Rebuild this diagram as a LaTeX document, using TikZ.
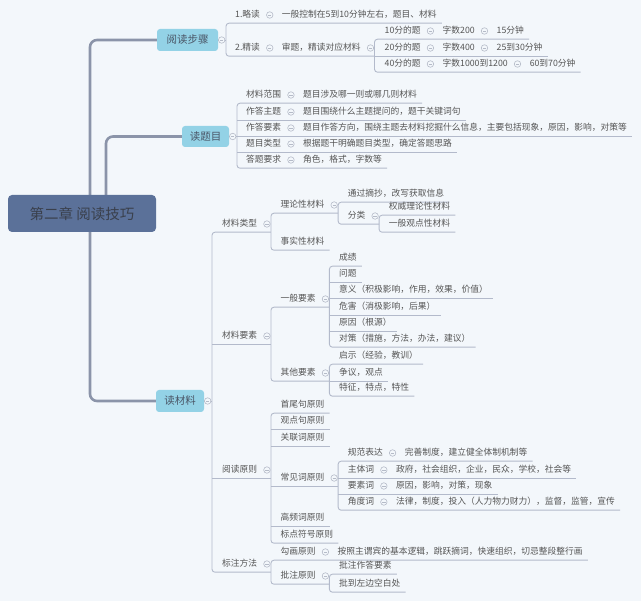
\documentclass[tikz,border=0pt]{standalone}
\usepackage{fontspec}
\newfontfamily\cjk{Noto Sans CJK SC}
\usetikzlibrary{positioning,backgrounds,calc}
\definecolor{bg}{HTML}{F3F7FB}
\definecolor{rootc}{HTML}{5B7199}
\definecolor{roottxt}{HTML}{3A404C}
\definecolor{topicc}{HTML}{93D2E6}
\definecolor{topictxt}{HTML}{4A5566}
\definecolor{txt}{HTML}{555555}
\definecolor{lnc}{HTML}{B3BACB}
\definecolor{mlc}{HTML}{8B94A9}
\definecolor{togc}{HTML}{B5BBC8}
\begin{document}
\begin{tikzpicture}[x=1pt,y=-1pt,
  rootn/.style={fill=rootc, rounded corners=4pt, minimum width=148pt, minimum height=37pt, inner sep=0pt, font=\cjk\fontsize{14.5}{16}\selectfont, text=roottxt},
  topic/.style={fill=topicc, rounded corners=3pt, inner sep=0pt, font=\cjk\fontsize{10.5}{12}\selectfont, text=topictxt},
  leaf/.style={anchor=west, inner xsep=0pt, inner ysep=3.75pt, text height=7pt, text depth=1.5pt, font=\cjk\fontsize{8.75}{10}\selectfont, text=txt},
  tog/.style={circle, draw=togc, fill=bg, line width=0.6pt, minimum size=6.5pt, inner sep=0pt,
    path picture={\draw[togc, line width=0.6pt] ([xshift=1.6pt]path picture bounding box.west) -- ([xshift=-1.6pt]path picture bounding box.east);}},
  conn/.style={draw=lnc, line width=0.9pt, rounded corners=3pt},
  mainconn/.style={draw=mlc, line width=2.6pt, rounded corners=7pt},
  node distance=6pt
]
\useasboundingbox (0,0) rectangle (641,601);

% ---- root and topics
\node[rootn] (root) at (82,213.5) {第二章 阅读技巧};
\node[topic, minimum width=61pt, minimum height=22pt] (buzhou) at (187.5,40) {阅读步骤};
\node[topic, minimum width=47pt, minimum height=21pt] (timu) at (205.5,136.5) {读题目};
\node[topic, minimum width=48pt, minimum height=22pt] (cail) at (180,401) {读材料};
\node[tog] (tgb) at ($(buzhou.east)+(3.5,0)$) {};
\node[tog] (tgt) at ($(timu.east)+(3.5,0)$) {};
\node[tog] (tgc) at ($(cail.east)+(3.5,0)$) {};
\coordinate (s1) at (226,0);
\coordinate (sT) at (237,0);
\coordinate (sM) at (212,0);
\coordinate (r1) at (90,0);
\coordinate (r2) at (106,0);

% ---- 阅读步骤
\node[leaf] (a11) at (235,15) {1.略读};
\node[tog, right=of a11] (ta11) {};
\node[leaf, right=8.5pt of ta11] (b11) {一般控制在5到10分钟左右，题目、材料};
\node[leaf] (a12) at (235,48) {2.精读};
\node[tog, right=of a12] (ta12) {};
\node[leaf, right=8.5pt of ta12] (b12) {审题，精读对应材料};
\node[tog, right=of b12] (tb12) {};
\coordinate (s2) at ($(tb12.center)+(4,0)$);
\node[leaf] (c1) at ($(s2 |- 0,31)+(10,0)$) {10分的题};
\node[tog, right=of c1] (tc1) {};
\node[leaf, right=8.5pt of tc1] (d1) {字数200};
\node[tog, right=of d1] (td1) {};
\node[leaf, right=8.5pt of td1] (e1) {15分钟};
\node[leaf] (c2) at ($(s2 |- 0,48)+(10,0)$) {20分的题};
\node[tog, right=of c2] (tc2) {};
\node[leaf, right=8.5pt of tc2] (d2) {字数400};
\node[tog, right=of d2] (td2) {};
\node[leaf, right=8.5pt of td2] (e2) {25到30分钟};
\node[leaf] (c3) at ($(s2 |- 0,64)+(10,0)$) {40分的题};
\node[tog, right=of c3] (tc3) {};
\node[leaf, right=8.5pt of tc3] (d3) {字数1000到1200};
\node[tog, right=of d3] (td3) {};
\node[leaf, right=8.5pt of td3] (e3) {60到70分钟};

% ---- 读题目
\node[leaf] (p1) at (246,95) {材料范围};
\node[tog, right=of p1] (tp1) {};
\node[leaf, right=8.5pt of tp1] (q1) {题目涉及哪一则或哪几则材料};
\node[leaf] (p2) at (246,112) {作答主题};
\node[tog, right=of p2] (tp2) {};
\node[leaf, right=8.5pt of tp2] (q2) {题目围绕什么主题提问的，题干关键词句};
\node[leaf] (p3) at (246,128) {作答要素};
\node[tog, right=of p3] (tp3) {};
\node[leaf, right=8.5pt of tp3] (q3) {题目作答方向，围绕主题去材料挖掘什么信息，主要包括现象，原因，影响，对策等};
\node[leaf] (p4) at (246,144) {题目类型};
\node[tog, right=of p4] (tp4) {};
\node[leaf, right=8.5pt of tp4] (q4) {根据题干明确题目类型，确定答题思路};
\node[leaf] (p5) at (246,160) {答题要求};
\node[tog, right=of p5] (tp5) {};
\node[leaf, right=8.5pt of tp5] (q5) {角色，格式，字数等};

% ---- 读材料 : level 1
\node[leaf] (m1) at (222,224) {材料类型};
\node[tog, right=of m1] (tm1) {};
\coordinate (sm1) at ($(tm1.center)+(4,0)$);
\node[leaf] (m2) at (222,336) {材料要素};
\node[tog, right=of m2] (tm2) {};
\coordinate (sm2) at ($(tm2.center)+(4,0)$);
\node[leaf] (m3) at (222,470) {阅读原则};
\node[tog, right=of m3] (tm3) {};
\coordinate (sm3) at ($(tm3.center)+(4,0)$);
\node[leaf] (m4) at (222,564) {标注方法};
\node[tog, right=of m4] (tm4) {};
\coordinate (sm4) at ($(tm4.center)+(4,0)$);

% 材料类型
\node[leaf] (n1) at ($(sm1 |- 0,205)+(9.5,0)$) {理论性材料};
\node[tog, right=of n1] (tn1) {};
\coordinate (sn1) at ($(tn1.center)+(4,0)$);
\node[leaf] (n2) at ($(sm1 |- 0,242)+(9.5,0)$) {事实性材料};
\node[leaf] (o1) at ($(sn1 |- 0,194)+(9.5,0)$) {通过摘抄，改写获取信息};
\node[leaf] (o2) at ($(sn1 |- 0,216)+(9.5,0)$) {分类};
\node[tog, right=of o2] (to2) {};
\coordinate (so2) at ($(to2.center)+(4,0)$);
\node[leaf] (w1) at ($(so2 |- 0,207)+(9.5,0)$) {权威理论性材料};
\node[leaf] (w2) at ($(so2 |- 0,224)+(9.5,0)$) {一般观点性材料};

% 材料要素
\node[leaf] (g1) at ($(sm2 |- 0,299)+(9.5,0)$) {一般要素};
\node[tog, right=of g1] (tg1) {};
\coordinate (sg1) at ($(tg1.center)+(4,0)$);
\node[leaf] (g2) at ($(sm2 |- 0,373)+(9.5,0)$) {其他要素};
\node[tog, right=of g2] (tg2) {};
\coordinate (sg2) at ($(tg2.center)+(4,0)$);
\node[leaf] (k1) at ($(sg1 |- 0,258)+(9.5,0)$) {成绩};
\node[leaf] (k2) at ($(sg1 |- 0,274)+(9.5,0)$) {问题};
\node[leaf] (k3) at ($(sg1 |- 0,290)+(9.5,0)$) {意义（积极影响，作用，效果，价值）};
\node[leaf] (k4) at ($(sg1 |- 0,307)+(9.5,0)$) {危害（消极影响，后果）};
\node[leaf] (k5) at ($(sg1 |- 0,323)+(9.5,0)$) {原因（根源）};
\node[leaf] (k6) at ($(sg1 |- 0,339)+(9.5,0)$) {对策（措施，方法，办法，建议）};
\node[leaf] (h1) at ($(sg2 |- 0,356)+(9.5,0)$) {启示（经验，教训）};
\node[leaf] (h2) at ($(sg2 |- 0,373)+(9.5,0)$) {争议，观点};
\node[leaf] (h3) at ($(sg2 |- 0,388)+(9.5,0)$) {特征，特点，特性};

% 阅读原则
\node[leaf] (y1) at ($(sm3 |- 0,405)+(9.5,0)$) {首尾句原则};
\node[leaf] (y2) at ($(sm3 |- 0,421)+(9.5,0)$) {观点句原则};
\node[leaf] (y3) at ($(sm3 |- 0,438)+(9.5,0)$) {关联词原则};
\node[leaf] (y4) at ($(sm3 |- 0,478)+(9.5,0)$) {常见词原则};
\node[tog, right=of y4] (ty4) {};
\coordinate (sy4) at ($(ty4.center)+(4,0)$);
\node[leaf] (y5) at ($(sm3 |- 0,518)+(9.5,0)$) {高频词原则};
\node[leaf] (y6) at ($(sm3 |- 0,535)+(9.5,0)$) {标点符号原则};
\node[leaf] (z1) at ($(sy4 |- 0,453)+(9.5,0)$) {规范表达};
\node[tog, right=of z1] (tz1) {};
\node[leaf, right=8.5pt of tz1] (zz1) {完善制度，建立健全体制机制等};
\node[leaf] (z2) at ($(sy4 |- 0,470)+(9.5,0)$) {主体词};
\node[tog, right=of z2] (tz2) {};
\node[leaf, right=8.5pt of tz2] (zz2) {政府，社会组织，企业，民众，学校，社会等};
\node[leaf] (z3) at ($(sy4 |- 0,486)+(9.5,0)$) {要素词};
\node[tog, right=of z3] (tz3) {};
\node[leaf, right=8.5pt of tz3] (zz3) {原因，影响，对策，现象};
\node[leaf] (z4) at ($(sy4 |- 0,502)+(9.5,0)$) {角度词};
\node[tog, right=of z4] (tz4) {};
\node[leaf, right=8.5pt of tz4] (zz4) {法律，制度，投入（人力物力财力），监督，监管，宣传};

% 标注方法
\node[leaf] (x1) at ($(sm4 |- 0,552)+(9.5,0)$) {勾画原则};
\node[tog, right=of x1] (tx1) {};
\node[leaf, right=8.5pt of tx1] (xx1) {按照主谓宾的基本逻辑，跳跃摘词，快速组织，切忌整段整行画};
\node[leaf] (x2) at ($(sm4 |- 0,576)+(9.5,0)$) {批注原则};
\node[tog, right=of x2] (tx2) {};
\coordinate (sx2) at ($(tx2.center)+(4,0)$);
\node[leaf] (v1) at ($(sx2 |- 0,566)+(9.5,0)$) {批注作答要素};
\node[leaf] (v2) at ($(sx2 |- 0,584)+(9.5,0)$) {批到左边空白处};

\begin{scope}[on background layer]
\fill[bg] (0,0) rectangle (641,601);
% main connectors
\draw[mainconn] (root.north -| r1) -- (r1 |- buzhou.west) -- (buzhou.west);
\draw[mainconn] (root.north -| r2) -- (r2 |- timu.west) -- (timu.west);
\draw[mainconn] (root.south -| r1) -- (r1 |- cail.west) -- (cail.west);
% 阅读步骤
\draw[conn] (buzhou.east) -- (s1 |- buzhou.east);
\draw[conn] ([xshift=5pt]b11.south east) -- (s1 |- b11.south) -- (s1 |- a12.south) -- (s2 |- a12.south);
\draw[conn] ([xshift=5pt]e1.south east) -- (s2 |- c1.south) -- (s2 |- c3.south) -- ([xshift=5pt]e3.south east);
\draw[conn] (s2 |- c2.south) -- ([xshift=5pt]e2.south east);
% 读题目
\draw[conn] (timu.east) -- (sT |- timu.east);
\draw[conn] ([xshift=5pt]q1.south east) -- (sT |- q1.south) -- (sT |- q5.south) -- ([xshift=5pt]q5.south east);
\draw[conn] (sT |- q2.south) -- ([xshift=5pt]q2.south east);
\draw[conn] (sT |- q3.south) -- ([xshift=5pt]q3.south east);
\draw[conn] (sT |- q4.south) -- ([xshift=5pt]q4.south east);
% 读材料
\draw[conn] (cail.east) -- (sM |- cail.east);
\draw[conn] (sm1 |- m1.south) -- (sM |- m1.south) -- (sM |- m4.south) -- (sm4 |- m4.south);
\draw[conn] (sM |- m2.south) -- (sm2 |- m2.south);
\draw[conn] (sM |- m3.south) -- (sm3 |- m3.south);
% 材料类型
\draw[conn] (sn1 |- n1.south) -- (sm1 |- n1.south) -- (sm1 |- n2.south) -- ([xshift=5pt]n2.south east);
\draw[conn] ([xshift=5pt]o1.south east) -- (sn1 |- o1.south) -- (sn1 |- o2.south) -- (so2 |- o2.south);
\draw[conn] ([xshift=5pt]w1.south east) -- (so2 |- w1.south) -- (so2 |- w2.south) -- ([xshift=5pt]w2.south east);
% 材料要素
\draw[conn] (sg1 |- g1.south) -- (sm2 |- g1.south) -- (sm2 |- g2.south) -- (sg2 |- g2.south);
\draw[conn] ([xshift=5pt]k1.south east) -- (sg1 |- k1.south) -- (sg1 |- k6.south) -- ([xshift=5pt]k6.south east);
\draw[conn] (sg1 |- k2.south) -- ([xshift=5pt]k2.south east);
\draw[conn] (sg1 |- k3.south) -- ([xshift=5pt]k3.south east);
\draw[conn] (sg1 |- k4.south) -- ([xshift=5pt]k4.south east);
\draw[conn] (sg1 |- k5.south) -- ([xshift=5pt]k5.south east);
\draw[conn] ([xshift=5pt]h1.south east) -- (sg2 |- h1.south) -- (sg2 |- h3.south) -- ([xshift=5pt]h3.south east);
\draw[conn] (sg2 |- h2.south) -- ([xshift=5pt]h2.south east);
% 阅读原则
\draw[conn] ([xshift=5pt]y1.south east) -- (sm3 |- y1.south) -- (sm3 |- y6.south) -- ([xshift=5pt]y6.south east);
\draw[conn] (sm3 |- y2.south) -- ([xshift=5pt]y2.south east);
\draw[conn] (sm3 |- y3.south) -- ([xshift=5pt]y3.south east);
\draw[conn] (sm3 |- y5.south) -- ([xshift=5pt]y5.south east);
\draw[conn] (sm3 |- y4.south) -- (sy4 |- y4.south);
\draw[conn] ([xshift=5pt]zz1.south east) -- (sy4 |- z1.south) -- (sy4 |- z4.south) -- ([xshift=5pt]zz4.south east);
\draw[conn] (sy4 |- z2.south) -- ([xshift=5pt]zz2.south east);
\draw[conn] (sy4 |- z3.south) -- ([xshift=5pt]zz3.south east);
% 标注方法
\draw[conn] ([xshift=5pt]xx1.south east) -- (sm4 |- x1.south) -- (sm4 |- x2.south) -- (sx2 |- x2.south);
\draw[conn] ([xshift=5pt]v1.south east) -- (sx2 |- v1.south) -- (sx2 |- v2.south) -- ([xshift=5pt]v2.south east);
\end{scope}
\end{tikzpicture}
\end{document}
